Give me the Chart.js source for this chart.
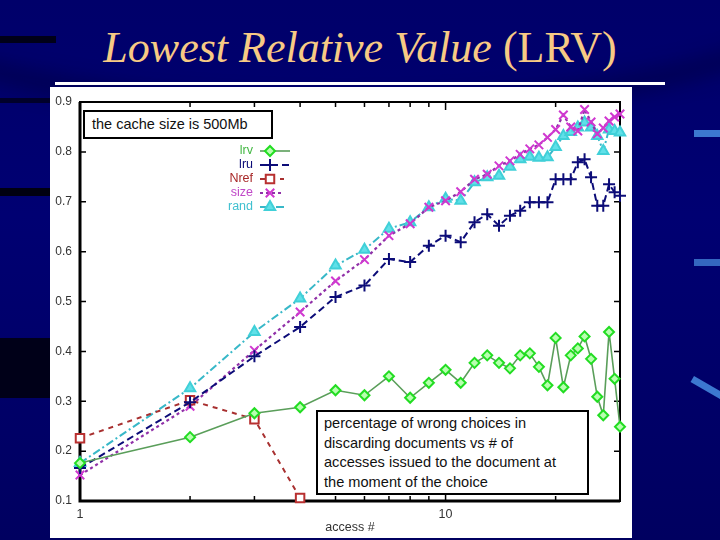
<!DOCTYPE html>
<html>
<head>
<meta charset="utf-8">
<script src="https://cdn.jsdelivr.net/npm/chart.js@4.4.1/dist/chart.umd.min.js"></script>
<style>
  body { margin: 0; }
  #slide { position: relative; width: 720px; height: 540px; overflow: hidden;
    background: linear-gradient(180deg, #00006a 0%, #000072 40%, #000060 100%); }
  .swoosh { position: absolute; left: -260px; top: -330px; width: 1200px; height: 430px;
    border-radius: 50%; border-bottom: 22px solid rgba(0,0,30,0.35); filter: blur(10px); }
  .bar { position: absolute; }
  #title { position: absolute; left: 0; top: 26px; width: 720px; text-align: center;
    font-family: "Liberation Serif", "Times New Roman", serif; font-size: 44px; line-height: 44px;
    color: #f7ca84; white-space: nowrap; }
  #rule { position: absolute; left: 55px; top: 82px; width: 610px; height: 3px; background: #fff; }
  #panel { position: absolute; left: 50px; top: 87px; width: 582px; height: 451px; background: #fff; }
  canvas { position: absolute; left: 0; top: 0; }
  .note { position: absolute; background: #fff; border: 2px solid #000; box-sizing: border-box;
    font-family: "Liberation Sans", Arial, sans-serif; color: #111; }
</style>
</head>
<body>
<div id="slide">
  <div class="swoosh"></div>
  <div class="bar" style="left:0;top:36px;width:56px;height:7px;background:#000018"></div>
  <div class="bar" style="left:0;top:98px;width:50px;height:5px;background:#00002a"></div>
  <div class="bar" style="left:0;top:188px;width:50px;height:8px;background:#000010"></div>
  <div class="bar" style="left:0;top:338px;width:50px;height:60px;background:#000018"></div>
  <div class="bar" style="left:694px;top:130px;width:26px;height:7px;background:#3c78d0"></div>
  <div class="bar" style="left:694px;top:259px;width:26px;height:7px;background:#3466c0"></div>
  <div class="bar" style="left:690px;top:384px;width:34px;height:7px;background:#3c78d0;transform:rotate(30deg)"></div>
  <div id="title"><i>Lowest Relative Value</i> (LRV)</div>
  <div id="rule"></div>
  <div id="panel"></div>
  <canvas id="chart1" width="720" height="540"></canvas>
  <div class="note" style="left:83px;top:110px;width:190px;height:29px;font-size:14.5px;line-height:25px;padding-left:7px;">the cache size is 500Mb</div>
  <div class="note" style="left:316px;top:410px;width:273px;height:85px;font-size:14.6px;line-height:19.6px;padding:2px 0 0 6px;">percentage of wrong choices in<br>discarding documents vs # of<br>accesses issued to the document at<br>the moment of the choice</div>
</div>
<script>
// access # (log axis)
const accesses = [1,2,3,4,5,6,7,8,9,10,11,12,13,14,15,16,17,18,19,20,21,22,23,24,25,26,27,28,29,30];
const lrv  = [0.176,0.228,0.276,0.288,0.322,0.312,0.350,0.307,0.337,0.363,0.337,0.377,0.392,0.377,0.366,
              0.392,0.396,0.369,0.332,0.427,0.328,0.392,0.406,0.430,0.385,0.309,0.272,0.439,0.345,0.249];
const lru  = [0.166,0.298,0.390,0.449,0.509,0.532,0.585,0.579,0.612,0.632,0.619,0.659,0.675,0.652,0.672,
              0.682,0.699,0.699,0.699,0.745,0.745,0.745,0.779,0.785,0.749,0.692,0.692,0.735,0.719,0.712];
const nref = [0.226,0.302,0.264,0.106];
const size = [0.152,0.290,0.402,0.479,0.541,0.584,0.632,0.656,0.689,0.702,0.720,0.745,0.755,0.772,0.782,
              0.795,0.806,0.814,0.829,0.845,0.874,0.850,0.842,0.885,0.860,0.836,0.848,0.862,0.870,0.876];
const rand = [0.176,0.326,0.439,0.506,0.572,0.604,0.646,0.659,0.689,0.706,0.702,0.739,0.749,0.752,0.770,
              0.785,0.790,0.788,0.789,0.810,0.832,0.840,0.849,0.859,0.849,0.832,0.802,0.845,0.842,0.839];
const seriesNames = ['lrv','lru','Nref','size','rand'];
const yTicks = [0.1,0.2,0.3,0.4,0.5,0.6,0.7,0.8,0.9];
const xTicks = [1,2,3,4,5,6,7,8,9,10,20,30];
const xTickLabels = {1:'1', 10:'10'};

function pts(vals) {
	return vals.map(function(v, i) { return {x: accesses[i], y: v}; });
}

const styles = [
	{color:'#5a9e5a', point:'#22dd22', fill:'#b8ffb0', text:'#44b844', pointStyle:'rectRot', r:5, dash:[], width:1.6},
	{color:'#0c0c78', point:'#0c0c78', fill:'#0c0c78', text:'#0c0c78', pointStyle:'cross', r:6, dash:[7,4], width:2},
	{color:'#a83030', point:'#b83030', fill:'#ffffff', text:'#a82828', pointStyle:'rect', r:6, dash:[5,5], width:2},
	{color:'#9030a8', point:'#d038d0', fill:'#d038d0', text:'#c048c8', pointStyle:'crossRot', r:6, dash:[3,3], width:2.2},
	{color:'#38b8c8', point:'#40d0d8', fill:'#60e0e8', text:'#40c0d0', pointStyle:'triangle', r:6, dash:[8,3,2,3], width:2}
];

// frame + inward ticks, gnuplot style
const framePlugin = {
	id: 'frame',
	beforeDatasetsDraw(chart) {
		const ctx = chart.ctx, a = chart.chartArea;
		const xs = chart.scales.x, ys = chart.scales.y;
		ctx.save();
		ctx.strokeStyle = '#000';
		ctx.lineWidth = 2;
		ctx.strokeRect(a.left, a.top, a.right - a.left, a.bottom - a.top);
		ctx.lineWidth = 3;
		ctx.beginPath();
		ctx.moveTo(a.left, a.top); ctx.lineTo(a.left, a.bottom); ctx.lineTo(a.right, a.bottom);
		ctx.stroke();
		ctx.lineWidth = 1.5;
		ctx.beginPath();
		yTicks.forEach(function(v) {
			const py = ys.getPixelForValue(v);
			ctx.moveTo(a.left, py); ctx.lineTo(a.left + 6, py);
			ctx.moveTo(a.right, py); ctx.lineTo(a.right - 6, py);
		});
		xTicks.forEach(function(v) {
			const px = xs.getPixelForValue(v);
			const len = (v == 1 || v == 10) ? 8 : 5;
			ctx.moveTo(px, a.bottom); ctx.lineTo(px, a.bottom - len);
			ctx.moveTo(px, a.top); ctx.lineTo(px, a.top + len);
		});
		ctx.stroke();
		ctx.restore();
	},
	afterDraw(chart) {
		const ctx = chart.ctx;
		ctx.save();
		ctx.font = '12.5px "Liberation Sans Narrow", "Liberation Sans", Arial, sans-serif';
		ctx.textAlign = 'right';
		ctx.textBaseline = 'middle';
		seriesNames.forEach(function(name, i) {
			const s = styles[i];
			const y = 151 + i * 14;
			ctx.fillStyle = s.text;
			ctx.fillText(name, 253, y);
			ctx.strokeStyle = s.color;
			ctx.lineWidth = s.width;
			ctx.setLineDash(s.dash);
			ctx.beginPath();
			ctx.moveTo(260, y); ctx.lineTo(i < 2 ? 290 : 284, y);
			ctx.stroke();
			ctx.setLineDash([]);
			ctx.strokeStyle = s.point;
			ctx.fillStyle = s.fill;
			ctx.lineWidth = 2;
			if (Chart.helpers && Chart.helpers.drawPoint) {
				Chart.helpers.drawPoint(ctx, {pointStyle: s.pointStyle, radius: s.r, borderWidth: 2, rotation: 0}, 270, y);
			}
		});
		ctx.restore();
	}
};

const datasets = [lrv, lru, nref, size, rand].map(function(vals, i) {
	const s = styles[i];
	return {
		label: seriesNames[i],
		data: pts(vals),
		borderColor: s.color,
		borderWidth: s.width,
		borderDash: s.dash,
		pointStyle: s.pointStyle,
		pointRadius: s.r,
		pointBorderWidth: 2,
		pointBorderColor: s.point,
		pointBackgroundColor: s.fill,
		fill: false,
		tension: 0,
		clip: false
	};
});

new Chart('chart1', {
	type: 'line',
	data: { datasets: datasets },
	options: {
		responsive: false,
		animation: false,
		layout: { padding: { left: 0, right: 100, top: 102, bottom: 0 } },
		scales: {
			x: {
				type: 'logarithmic',
				min: 1,
				max: 30,
				afterFit: function(scale) { scale.height = 39; },
				afterBuildTicks: function(scale) { scale.ticks = xTicks.map(function(v) { return {value: v}; }); },
				grid: { display: false, drawTicks: false },
				border: { display: false },
				ticks: {
					autoSkip: false, maxRotation: 0, padding: 6,
					color: '#333', font: { family: '"Liberation Sans", Arial, sans-serif', size: 12.5 },
					callback: function(value) { return xTickLabels[value] || ''; }
				},
				title: { display: true, text: 'access #', color: '#333', padding: { top: 0, bottom: 5 },
					font: { family: '"Liberation Sans", Arial, sans-serif', size: 12.5 } }
			},
			y: {
				min: 0.1,
				max: 0.9,
				afterFit: function(scale) { scale.width = 80; },
				afterBuildTicks: function(scale) { scale.ticks = yTicks.map(function(v) { return {value: v}; }); },
				grid: { display: false, drawTicks: false },
				border: { display: false },
				ticks: {
					padding: 8, color: '#333',
					font: { family: '"Liberation Sans", Arial, sans-serif', size: 12 },
					callback: function(value) { return value.toFixed(1); }
				}
			}
		},
		plugins: { legend: { display: false }, tooltip: { enabled: false } }
	},
	plugins: [framePlugin]
});
</script>
</body>
</html>
